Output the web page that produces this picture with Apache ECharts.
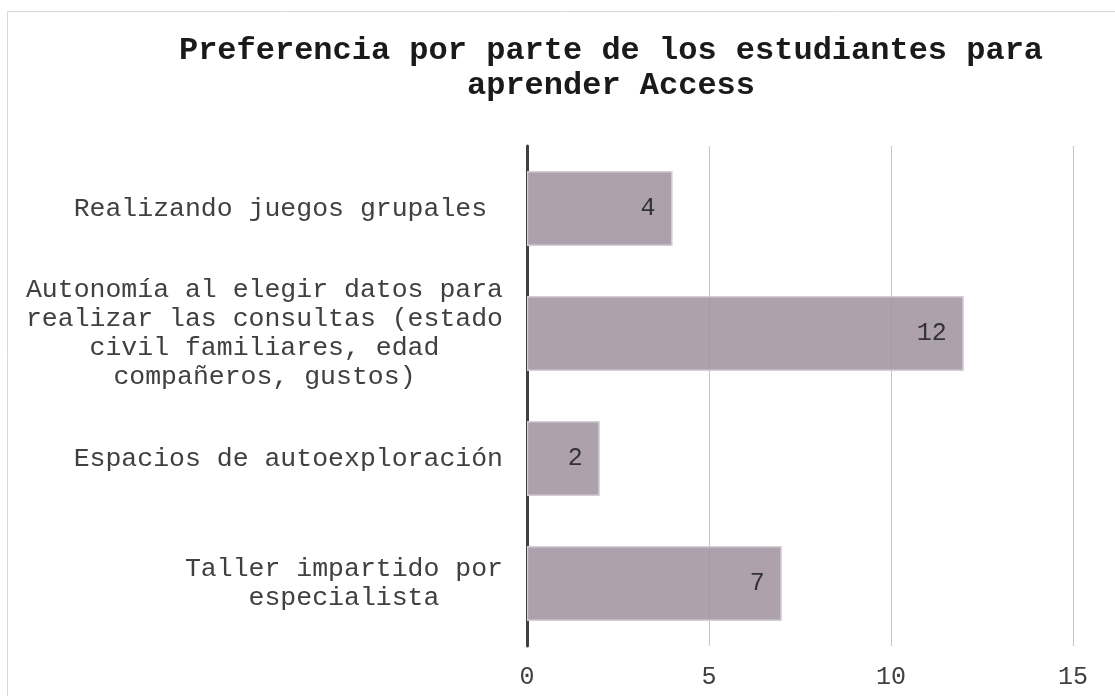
<!DOCTYPE html>
<html>
<head>
<meta charset="utf-8">
<script src="https://cdn.jsdelivr.net/npm/echarts@6/dist/echarts.min.js"></script>
<style>
  html, body { margin: 0; padding: 0; background: #fff; }
  #main { width: 1115px; height: 696px; }
</style>
</head>
<body>
<div id="main"></div>
<script>
const titleText = 'Preferencia por parte de los estudiantes para\naprender Access';
const categories = [
  'Realizando juegos grupales ',
  'Autonomía al elegir datos para\nrealizar las consultas (estado\ncivil familiares, edad\ncompañeros, gustos)',
  'Espacios de autoexploración',
  'Taller impartido por\nespecialista'
];
const values = [4, 12, 2, 7];
const xTicks = [0, 5, 10, 15];

const mono = '"Liberation Mono", "Courier New", monospace';
const dom = document.getElementById('main');
const myChart = echarts.init(dom);

const option = {
  animation: false,
  graphic: [{
    type: 'rect',
    shape: { x: 7.5, y: 11.5, width: 1200, height: 800 },
    style: { fill: 'none', stroke: '#d9d9d9', lineWidth: 1 },
    silent: true
  }],
  title: {
    text: titleText,
    left: 606,
    top: 28,
    textAlign: 'center',
    textStyle: {
      fontFamily: mono,
      fontWeight: 'bold',
      fontSize: 32,
      lineHeight: 35,
      color: '#1a1a1a'
    }
  },
  grid: { left: 527, right: 42, top: 146, bottom: 50, containLabel: false },
  xAxis: {
    type: 'value',
    min: xTicks[0],
    max: xTicks[xTicks.length - 1],
    interval: xTicks[1] - xTicks[0],
    axisLine: { show: false },
    axisTick: { show: false },
    splitLine: { show: true, lineStyle: { color: '#c4c4c4', width: 1 } },
    axisLabel: {
      margin: 19,
      fontFamily: mono,
      fontSize: 25,
      color: '#404040'
    }
  },
  yAxis: {
    type: 'category',
    inverse: true,
    data: categories,
    axisLine: { show: true, lineStyle: { color: '#404040', width: 3 } },
    axisTick: { show: false },
    axisLabel: {
      margin: 24,
      align: 'right',
      formatter: (v) => v.split('\n').map((l) => '{c|' + l + '}').join('\n'),
      rich: {
        c: {
          align: 'center',
          fontFamily: mono,
          fontSize: 26.5,
          lineHeight: 29,
          color: '#404040'
        }
      }
    }
  },
  series: [{
    type: 'bar',
    data: values,
    barCategoryGap: '40%',
    itemStyle: {
      color: 'rgba(158,145,158,0.86)',
      borderColor: '#d4cdd4',
      borderWidth: 1.5
    },
    label: {
      show: true,
      position: 'insideRight',
      distance: 17,
      fontFamily: mono,
      fontSize: 25,
      color: '#333'
    }
  }]
};

myChart.setOption(option);
window.addEventListener('resize', myChart.resize);
</script>
</body>
</html>
